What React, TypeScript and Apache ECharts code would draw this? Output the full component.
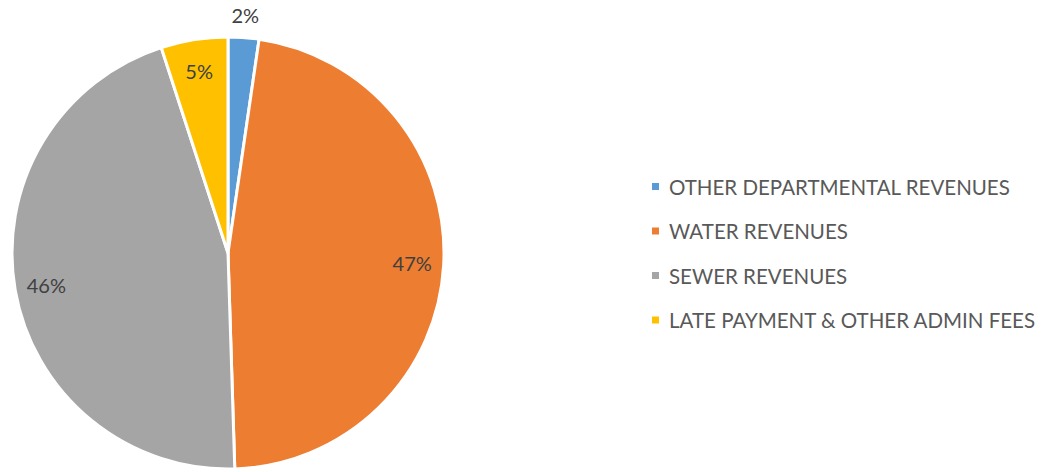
import React, { useEffect, useRef } from "react";
import * as echarts from "echarts";

const categories = [
  "OTHER DEPARTMENTAL REVENUES",
  "WATER REVENUES",
  "SEWER REVENUES",
  "LATE PAYMENT & OTHER ADMIN FEES",
];
const values = [2.3, 47.2, 45.5, 5.0];
const colors = ["#5B9BD5", "#ED7D31", "#A5A5A5", "#FFC000"];
const outsideLabel = [true, false, false, false];

export default function App() {
  const ref = useRef<HTMLDivElement>(null);
  useEffect(() => {
    if (!ref.current) return;
    const chart = echarts.init(ref.current, null, { renderer: "svg" });
    const font = "Lato";
    const center = [228, 253];
    const R = 216;
    const mainData = categories.map((name, i) => ({
      name,
      value: values[i],
      itemStyle: { color: colors[i] },
    }));
    const labelRing = (inner: boolean) =>
      categories.map((name, i) => ({
        name,
        value: values[i],
        label: { show: inner ? !outsideLabel[i] : outsideLabel[i] },
      }));
    const labelSeriesBase = {
      type: "pie",
      center,
      startAngle: 90,
      silent: true,
      percentPrecision: 0,
      legendHoverLink: false,
      itemStyle: { color: "rgba(0,0,0,0)", borderWidth: 0 },
      emphasis: { disabled: true },
      labelLine: { show: false },
      label: {
        position: "inside",
        formatter: "{d}%",
        color: "#404040",
        fontFamily: font,
        fontSize: 20,
      },
      z: 3,
    };
    chart.setOption({
      animation: false,
      legend: {
        orient: "vertical",
        left: 645,
        top: 171,
        itemWidth: 9,
        itemHeight: 9,
        itemGap: 23.5,
        icon: "rect",
        selectedMode: false,
        data: categories,
        textStyle: {
          color: "#595959",
          fontFamily: font,
          fontSize: 20.5,
          lineHeight: 20,
          padding: [0, 0, 0, 4],
        },
      },
      series: [
        {
          type: "pie",
          center,
          radius: [0, R],
          startAngle: 90,
          data: mainData,
          label: { show: false },
          labelLine: { show: false },
          itemStyle: { borderColor: "#ffffff", borderWidth: 3 },
          emphasis: { disabled: true },
        },
        {
          ...labelSeriesBase,
          name: "innerLabels",
          radius: [R * 0.68, R],
          data: labelRing(true),
        },
        {
          ...labelSeriesBase,
          name: "outerLabels",
          radius: [R, R * 1.18],
          data: labelRing(false),
        },
      ],
    });
    return () => chart.dispose();
  }, []);
  return (
    <div
      ref={ref}
      style={{ position: "fixed", left: 0, top: 0, width: 1049, height: 472, background: "#fff" }}
    />
  );
}
